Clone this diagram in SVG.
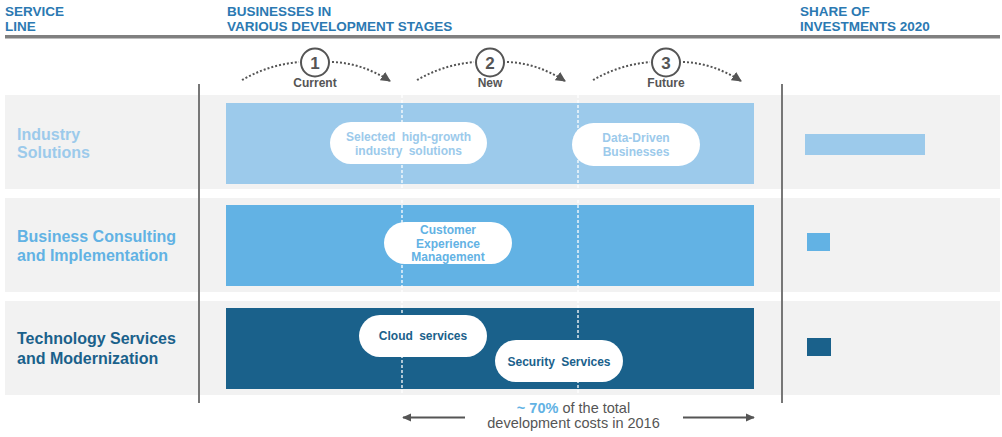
<svg xmlns="http://www.w3.org/2000/svg" width="1002" height="437" viewBox="0 0 1002 437">
<defs>
<marker id="ah" viewBox="0 0 10 10" refX="9" refY="5" markerWidth="10" markerHeight="10" markerUnits="userSpaceOnUse" orient="auto">
<path d="M0,0 L10,5 L0,10 Z" fill="#555"/>
</marker>
<marker id="ah2" viewBox="0 0 10 10" refX="9" refY="5" markerWidth="9" markerHeight="9" markerUnits="userSpaceOnUse" orient="auto">
<path d="M0,0.5 L10,5 L0,9.5 Z" fill="#555"/>
</marker>
</defs>
<style>
text{font-family:"Liberation Sans",Arial,sans-serif}
.hdr{font-size:13.5px;font-weight:bold;fill:#2b79b2}
.row{fill:#f2f2f2}
.lbl{font-size:16px;font-weight:bold}
.pill{fill:#fff}
.pt{font-size:12px;font-weight:bold;text-anchor:middle;word-spacing:3px}
.num{font-size:17px;font-weight:bold;fill:#555;text-anchor:middle}
.stage{font-size:12px;font-weight:bold;fill:#555;text-anchor:middle}
.arc{fill:none;stroke:#555;stroke-width:2;stroke-dasharray:2 2}
.vl{stroke:#777;stroke-width:2}
.dash{stroke:#fff;stroke-width:1.3;stroke-dasharray:3 2}
.c1{fill:#9ccaeb}
.c2{fill:#62b2e4}
.c3{fill:#1a618b}
</style>
<rect width="1002" height="437" fill="#fff"/>
<g id="header">
<text class="hdr" x="5" y="16">SERVICE</text>
<text class="hdr" x="5" y="31">LINE</text>
<text class="hdr" x="227" y="16">BUSINESSES IN</text>
<text class="hdr" x="227" y="31">VARIOUS DEVELOPMENT STAGES</text>
<text class="hdr" x="800" y="16">SHARE OF</text>
<text class="hdr" x="800" y="31">INVESTMENTS 2020</text>
<rect x="5" y="35" width="995" height="3.5" fill="#808080"/>
</g>
<g id="rows">
<rect class="row" x="5" y="95" width="995" height="94"/>
<rect class="row" x="5" y="198" width="995" height="94"/>
<rect class="row" x="5" y="301" width="995" height="94"/>
</g>
<g id="bars">
<rect class="c1" x="226" y="103" width="528" height="81"/>
<rect class="c2" x="226" y="205" width="528" height="81"/>
<rect class="c3" x="226" y="308" width="528" height="81"/>
<line class="dash" x1="402" y1="95" x2="402" y2="395"/>
<line class="dash" x1="578" y1="95" x2="578" y2="395"/>
</g>
<g id="dividers">
<line class="vl" x1="199" y1="84" x2="199" y2="403"/>
<line class="vl" x1="782" y1="84" x2="782" y2="403"/>
</g>
<g id="labels">
<text class="lbl" x="17" y="140" fill="#9ccaeb">Industry</text>
<text class="lbl" x="17" y="158" fill="#9ccaeb">Solutions</text>
<text class="lbl" x="17" y="242" fill="#62b2e4">Business Consulting</text>
<text class="lbl" x="17" y="261" fill="#62b2e4">and Implementation</text>
<text class="lbl" x="17" y="344" fill="#1a618b">Technology Services</text>
<text class="lbl" x="17" y="364" fill="#1a618b">and Modernization</text>
</g>
<g id="stage1">
<circle cx="315" cy="62.5" r="14" fill="#fff" stroke="#555" stroke-width="2"/>
<text class="num" x="315" y="68.5">1</text>
<text class="stage" x="315" y="87">Current</text>
</g>
<g id="stage2">
<circle cx="490" cy="62.5" r="14" fill="#fff" stroke="#555" stroke-width="2"/>
<text class="num" x="490" y="68.5">2</text>
<text class="stage" x="490" y="87">New</text>
</g>
<g id="stage3">
<circle cx="666" cy="62.5" r="14" fill="#fff" stroke="#555" stroke-width="2"/>
<text class="num" x="666" y="68.5">3</text>
<text class="stage" x="666" y="87">Future</text>
</g>
<g id="connectors">
<path class="arc" d="M242,80 Q268,65 299,62"/>
<path class="arc" d="M332,62 Q362,63 390,81" marker-end="url(#ah)"/>
<path class="arc" d="M417,80 Q443,65 474,62"/>
<path class="arc" d="M507,62 Q537,63 565,81" marker-end="url(#ah)"/>
<path class="arc" d="M593,80 Q619,65 650,62"/>
<path class="arc" d="M683,62 Q713,63 741,81" marker-end="url(#ah)"/>
<line x1="465" y1="417.5" x2="403" y2="417.5" stroke="#555" stroke-width="2" marker-end="url(#ah2)"/>
<line x1="683" y1="417.5" x2="754" y2="417.5" stroke="#555" stroke-width="2" marker-end="url(#ah2)"/>
</g>
<g id="pill-selected">
<rect class="pill" x="330" y="122" width="157" height="42" rx="21"/>
<text class="pt" x="408.5" y="141" fill="#9ccaeb">Selected high-growth</text>
<text class="pt" x="408.5" y="154.5" fill="#9ccaeb">industry solutions</text>
</g>
<g id="pill-datadriven">
<rect class="pill" x="572" y="123" width="128" height="43" rx="21.5"/>
<text class="pt" x="636" y="142" fill="#9ccaeb">Data-Driven</text>
<text class="pt" x="636" y="155.5" fill="#9ccaeb">Businesses</text>
</g>
<g id="pill-cem">
<rect class="pill" x="384" y="222" width="128" height="42" rx="21"/>
<text class="pt" x="448" y="234" fill="#62b2e4">Customer</text>
<text class="pt" x="448" y="247.5" fill="#62b2e4">Experience</text>
<text class="pt" x="448" y="261" fill="#62b2e4">Management</text>
</g>
<g id="pill-cloud">
<rect class="pill" x="359" y="315" width="128" height="42" rx="21"/>
<text class="pt" x="423" y="340" fill="#1a618b">Cloud services</text>
</g>
<g id="pill-security">
<rect class="pill" x="495" y="340" width="128" height="42" rx="21"/>
<text class="pt" x="559" y="365.5" fill="#1a618b">Security Services</text>
</g>
<g id="shares">
<rect class="c1" x="805" y="134" width="120" height="21"/>
<rect class="c2" x="807" y="233" width="23" height="18"/>
<rect class="c3" x="807" y="338" width="24" height="18"/>
</g>
<g id="note">
<text x="573.5" y="413" text-anchor="middle" font-size="14.5" fill="#555"><tspan font-weight="bold" fill="#62b2e4">~ 70%</tspan> of the total</text>
<text x="573.5" y="428" text-anchor="middle" font-size="14.5" fill="#555">development costs in 2016</text>
</g>
</svg>
